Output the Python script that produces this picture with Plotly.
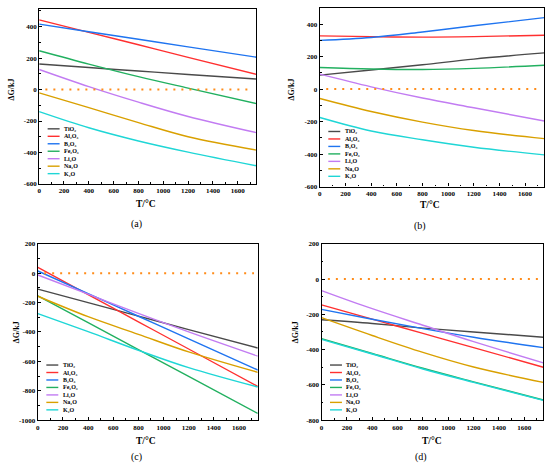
import plotly.graph_objects as go

W, H = 550, 469

temps = [0, 400, 800, 1200, 1750]
zero_T = [50, 1720]

names = ['TiO₂', 'Al₂O₃', 'B₂O₃', 'Fe₂O₃', 'Li₂O', 'Na₂O', 'K₂O']
colors = ['#4a4a4a', '#ff3030', '#1f74f0', '#22b060', '#c27cf2', '#d9a000', '#1fd6d6']

# delta G (kJ), one row per oxide, same order as names
dg_a = [
    [163, 140, 118, 96, 67],
    [443, 364, 285, 205, 97],
    [416, 368, 320, 272, 206],
    [247, 162, 82, 9, -89],
    [128, 19, -80, -171, -274],
    [-21, -115, -210, -300, -385],
    [-140, -243, -327, -398, -485],
]
dg_b = [
    [86, 118, 150, 185, 223],
    [328, 323, 320, 323, 332],
    [300, 318, 352, 390, 440],
    [133, 124, 121, 128, 147],
    [92, 14, -55, -115, -196],
    [-58, -138, -203, -255, -305],
    [-175, -258, -312, -358, -405],
]
dg_c = [
    [-108, -200, -292, -384, -509],
    [39, -146, -331, -516, -771],
    [15, -139, -293, -447, -659],
    [-155, -337, -520, -702, -955],
    [-12, -143, -274, -400, -565],
    [-157, -296, -416, -536, -675],
    [-275, -398, -525, -643, -775],
]
dg_d = [
    [-231, -252, -278, -300, -330],
    [-146, -227, -308, -389, -500],
    [-172, -228, -281, -330, -389],
    [-338, -422, -506, -583, -686],
    [-65, -168, -262, -355, -475],
    [-219, -320, -416, -499, -586],
    [-342, -425, -510, -586, -688],
]

xtick_vals = [0, 200, 400, 600, 800, 1000, 1200, 1400, 1600]
ytick_ab = [-600, -400, -200, 0, 200, 400]
ytick_c = [-1000, -800, -600, -400, -200, 0, 200]
ytick_d = [-800, -600, -400, -200, 0, 200]

panels = [
    # data, yticks, yrange, box px (x0, x1, ytop, ybottom), label
    (dg_a, ytick_ab, [-600, 515], (37.3, 255.3, 4.7, 183.0), '(a)'),
    (dg_b, ytick_ab, [-600, 500], (319.0, 544.3, 4.0, 185.7), '(b)'),
    (dg_c, ytick_c, [-1000, 200], (36.0, 256.7, 244.0, 423.3), '(c)'),
    (dg_d, ytick_d, [-800, 200], (320.7, 543.3, 244.0, 423.3), '(d)'),
]
# axis title / panel label positions in px: (xtitle x, xtitle y, label x, label y, ytitle x, ytitle y)
label_pos = [
    (145, 203, 135, 224, 10, 87),
    (430, 204, 420, 226, 291, 87),
    (145, 445, 135, 461, 14, 334),
    (432, 445, 421, 461, 294, 334),
]

serif = 'Liberation Serif'
fig = go.Figure()
shapes = []
annotations = []

for i, (data, yticks, yrange, box, label) in enumerate(panels):
    n = '' if i == 0 else str(i + 1)
    xa, ya = 'x' + n, 'y' + n
    x0, x1, yt, yb = box
    pw, ph = x1 - x0, yb - yt

    for name, color, vals in zip(names, colors, data):
        fig.add_trace(go.Scatter(x=temps, y=vals, mode='lines', name=name,
                                 line=dict(color=color, width=1.4, shape='spline', smoothing=1.0),
                                 xaxis=xa, yaxis=ya, showlegend=False))
    fig.add_trace(go.Scatter(x=zero_T, y=[0, 0], mode='lines',
                             line=dict(color='#ff8c1a', width=2, dash='2px,6px'),
                             xaxis=xa, yaxis=ya, showlegend=False))

    axis_common = dict(showline=True, linecolor='black', linewidth=1.2, mirror=True,
                       showgrid=False, zeroline=False, ticks='inside', ticklen=3,
                       tickwidth=1, tickcolor='black',
                       tickfont=dict(family=serif, size=7, color='black', weight='bold'))
    fig.update_layout({
        'xaxis' + n: dict(axis_common, domain=[x0 / W, x1 / W], range=[0, 1750],
                          tickmode='array', tickvals=xtick_vals, anchor=ya,
                          minor=dict(tickmode='linear', tick0=0, dtick=100, ticks='inside',
                                     ticklen=1.8, tickcolor='black')),
        'yaxis' + n: dict(axis_common, domain=[1 - yb / H, 1 - yt / H], range=yrange,
                          tickmode='array', tickvals=yticks, ticktext=[str(v) for v in yticks],
                          anchor=xa,
                          minor=dict(tickmode='linear', tick0=0, dtick=100, ticks='inside',
                                     ticklen=1.8, tickcolor='black')),
    })

    # legend, drawn inside the lower left corner
    for j, (name, color) in enumerate(zip(names, colors)):
        ly = (56 - 7.6 * j) / ph
        shapes.append(dict(type='line', xref=xa + ' domain', yref=ya + ' domain',
                           x0=8.5 / pw, x1=20.5 / pw, y0=ly, y1=ly,
                           line=dict(color=color, width=1.4)))
        annotations.append(dict(xref=xa + ' domain', yref=ya + ' domain', x=23 / pw, y=ly,
                                text=name, showarrow=False, xanchor='left', yanchor='middle',
                                font=dict(family=serif, size=6, color='black', weight='bold')))

    tx, ty, lx, lyy, yx, yy = label_pos[i]
    annotations.append(dict(xref='paper', yref='paper', x=tx / W, y=1 - ty / H, text='T/°C',
                            showarrow=False, xanchor='center', yanchor='middle',
                            font=dict(family=serif, size=9.5, color='black', weight='bold')))
    annotations.append(dict(xref='paper', yref='paper', x=lx / W, y=1 - lyy / H, text=label,
                            showarrow=False, xanchor='center', yanchor='middle',
                            font=dict(family=serif, size=10, color='black')))
    annotations.append(dict(xref='paper', yref='paper', x=yx / W, y=1 - yy / H, text='ΔG/kJ',
                            showarrow=False, xanchor='center', yanchor='middle', textangle=-90,
                            font=dict(family=serif, size=8, color='black', weight='bold')))

fig.update_layout(width=W, height=H, margin=dict(l=0, r=0, t=0, b=0),
                  paper_bgcolor='white', plot_bgcolor='white',
                  shapes=shapes, annotations=annotations, showlegend=False)

# the page body has an 8px margin by default; drop it so the figure sits at the corner
fig.write_html("out.html", config={'displayModeBar': False},
               post_script="document.body.style.margin='0px';")
